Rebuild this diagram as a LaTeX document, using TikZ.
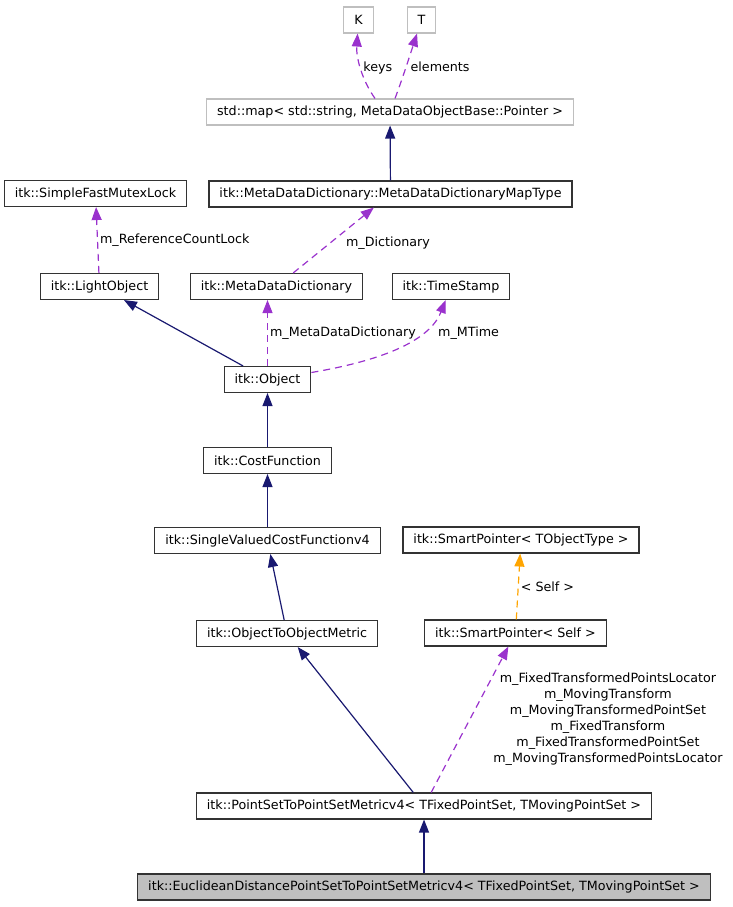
\documentclass[tikz,border=0pt]{standalone}
\usepackage{fontspec}
\setmainfont{DejaVu Sans}
\usetikzlibrary{arrows.meta}
\definecolor{inhblue}{HTML}{191970}
\definecolor{usepurple}{HTML}{9A32CD}
\definecolor{tplorange}{HTML}{FFA500}
\begin{document}
\begin{tikzpicture}[x=1pt,y=-1pt,>={Triangle[length=13pt,width=10pt]}]
        \tikzstyle{klass}=[rectangle,draw=black!80,line width=1.1pt,fill=white,font=\fontsize{12.7}{16}\selectfont,inner xsep=10.5pt,inner ysep=0pt,minimum height=26pt]
        \tikzstyle{extern}=[klass,draw=black!25]
        \tikzstyle{focus}=[klass,fill=black!25]
        \tikzstyle{inherit}=[color=inhblue,line width=1.2pt,->]
        \tikzstyle{member}=[color=usepurple,line width=1.2pt,dash pattern=on 7pt off 5pt,->]
        \tikzstyle{tmpl}=[color=tplorange,line width=1.2pt,dash pattern=on 7pt off 5pt,->]
        \tikzstyle{lbl}=[font=\fontsize{12.7}{16}\selectfont,text=black,inner sep=2pt]
        \useasboundingbox (0,0) rectangle (732,907);
        \node [extern] (k) at (358.5,20) {K};
        \node [extern] (t) at (421.5,20) {T};
        \node [extern] (stdmap) at (390,112) {std::map< std::string, MetaDataObjectBase::Pointer >};
        \node [klass] (mutex) at (95.5,193.5) {itk::SimpleFastMutexLock};
        \node [klass] (maptype) at (390.5,194) {itk::MetaDataDictionary::MetaDataDictionaryMapType};
        \node [klass] (lightobj) at (99.5,286.5) {itk::LightObject};
        \node [klass] (mdd) at (276.5,286.5) {itk::MetaDataDictionary};
        \node [klass] (tstamp) at (451,286.5) {itk::TimeStamp};
        \node [klass] (obj) at (267.5,379.5) {itk::Object};
        \node [klass] (costfn) at (267.5,460.5) {itk::CostFunction};
        \node [klass] (svcf) at (267.5,540.5) {itk::SingleValuedCostFunctionv4};
        \node [klass] (spobj) at (521,540) {itk::SmartPointer< TObjectType >};
        \node [klass] (otom) at (287,633.5) {itk::ObjectToObjectMetric};
        \node [klass] (spself) at (515.5,633) {itk::SmartPointer< Self >};
        \node [klass] (pstps) at (424,806) {itk::PointSetToPointSetMetricv4< TFixedPointSet, TMovingPointSet >};
        \node [focus] (euclid) at (424,887) {itk::EuclideanDistancePointSetToPointSetMetricv4< TFixedPointSet, TMovingPointSet >};
        % template arguments
        \path[member,draw] ([xshift=-15pt]stdmap.north) .. controls (362,80) and (356,58) .. (k) node[lbl,pos=0.5,right] {keys};
        \path[member,draw] ([xshift=5pt]stdmap.north) .. controls (402,80) and (410,55) .. (t) node[lbl,pos=0.5,right,xshift=2pt] {elements};
        \path[inherit] (maptype) edge (stdmap);
        % members and bases
        \path[member] (lightobj) edge node[lbl,right] {m\_ReferenceCountLock} (mutex);
        \path[member] (mdd) edge node[lbl,pos=0.45,right,xshift=14pt] {m\_Dictionary} (maptype);
        \path[inherit] (obj) edge (lightobj);
        \path[member] (obj) edge node[lbl,right] {m\_MetaDataDictionary} (mdd.south -| obj);
        \path[member,draw] ([yshift=7pt]obj.east) .. controls (385,360) and (430,340) .. (tstamp) node[lbl,pos=0.72,right,xshift=10pt,yshift=-4pt] {m\_MTime};
        \path[inherit] (costfn) edge (obj);
        \path[inherit] (svcf) edge (costfn);
        \path[inherit] (otom) edge (svcf);
        \path[tmpl] (spself) edge node[lbl,right] {< Self >} (spobj);
        \path[inherit] (pstps) edge (otom);
        \path[member] (pstps) edge node[lbl,align=center,right,xshift=21pt] {m\_FixedTransformedPointsLocator\\m\_MovingTransform\\m\_MovingTransformedPointSet\\m\_FixedTransform\\m\_FixedTransformedPointSet\\m\_MovingTransformedPointsLocator} (spself);
        \path[inherit] (euclid) edge (pstps);
\end{tikzpicture}
\end{document}
